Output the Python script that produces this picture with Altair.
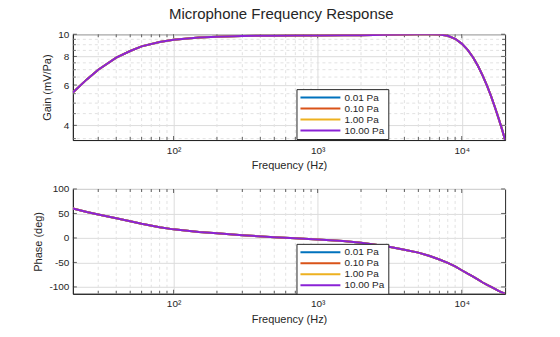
import altair as alt
import pandas as pd

# ---- data ----
freq = [20, 25, 30, 40, 50, 60, 80, 100, 150, 200, 300, 500, 700, 1000, 1500, 2000,
        3000, 4000, 5000, 6000, 7000, 8000, 9000, 10000, 11000, 12000, 13000, 14000,
        15000, 16000, 17000, 18000, 19000, 20000]
gain = [5.57, 6.35, 7.0, 7.9, 8.45, 8.85, 9.25, 9.45, 9.68, 9.76, 9.83, 9.86, 9.87, 9.88,
        9.9, 9.91, 9.94, 9.97, 9.99, 10.0, 9.97, 9.85, 9.55, 9.1, 8.55, 7.92, 7.25, 6.58,
        5.95, 5.35, 4.8, 4.3, 3.86, 3.45]
phase = [60, 53, 48, 40, 34, 29, 22, 17.5, 12, 9.5, 5.5, 1.5, -0.5, -3, -6.5, -10,
         -17, -24, -30, -37, -44, -51, -58, -66, -73, -79, -85, -91, -96, -100, -104,
         -108, -111, -114]
levels = ["0.01 Pa", "0.10 Pa", "1.00 Pa", "10.00 Pa"]
colors = ["#0072BD", "#D95319", "#EDB120", "#8A22D6"]

x_major = [100, 1000, 10000]
x_minor = [30, 40, 50, 60, 70, 80, 90, 200, 300, 400, 500, 600, 700, 800, 900,
           2000, 3000, 4000, 5000, 6000, 7000, 8000, 9000]
gain_ticks = [4, 6, 8, 10]
gain_minor = [3.5, 4.5, 5, 5.5, 6.5, 7, 7.5, 8.5, 9, 9.5]
phase_ticks = [-100, -50, 0, 50, 100]

rows = []
for lv in levels:
    for f, g, p in zip(freq, gain, phase):
        rows.append({"level": lv, "f": f, "gain": g, "phase": p})
df = pd.DataFrame(rows)
df_xminor = pd.DataFrame({"f": x_minor})
df_xmajor = pd.DataFrame({"f": x_major})
df_gmajor = pd.DataFrame({"gain": gain_ticks})
df_gminor = pd.DataFrame({"gain": gain_minor})
df_pmajor = pd.DataFrame({"phase": phase_ticks})

TXT = "#262626"
GRID = "#dcdcdc"
MINOR = "#e2e2e2"
W = 433

x_enc = alt.X(
    "f:Q",
    scale=alt.Scale(type="log", domain=[20, 20000], nice=False),
    axis=alt.Axis(
        values=x_major,
        labelExpr="datum.value == 100 ? '10²' : datum.value == 1000 ? '10³' : '10⁴'",
        title="Frequency (Hz)",
        labelPadding=5,
        titlePadding=5,
    ),
)

legend = alt.Legend(
    orient="none", legendX=224, legendY=55, title=None,
    symbolType="stroke", symbolSize=1600, symbolStrokeWidth=2,
    clipHeight=11, labelFontSize=10, labelOffset=3, padding=3,
    fillColor="white", strokeColor=TXT, rowPadding=0,
)
color_enc = alt.Color("level:N", scale=alt.Scale(domain=levels, range=colors), legend=legend)


def inward_ticks(y_enc, h, ymaj_df, ymin_df):
    out = []
    for d, L in ((df_xmajor, 4), (df_xminor, 3)):
        out.append(alt.Chart(d).mark_tick(color=TXT, thickness=1, size=L)
                   .encode(x=x_enc, y=alt.value(h - L / 2)))
        out.append(alt.Chart(d).mark_tick(color=TXT, thickness=1, size=L)
                   .encode(x=x_enc, y=alt.value(L / 2)))
    for d, L in ((ymaj_df, 4), (ymin_df, 3)):
        if d is None:
            continue
        out.append(alt.Chart(d).mark_tick(color=TXT, thickness=1, size=L)
                   .encode(y=y_enc, x=alt.value(L / 2)))
        out.append(alt.Chart(d).mark_tick(color=TXT, thickness=1, size=L)
                   .encode(y=y_enc, x=alt.value(W - L / 2)))
    return out


def panel(y_enc, h, ymaj_df, ymin_df):
    layers = [
        alt.Chart(df_xminor).mark_rule(color=MINOR, strokeDash=[3, 3], strokeWidth=1).encode(x=x_enc)
    ]
    if ymin_df is not None:
        layers.append(
            alt.Chart(ymin_df).mark_rule(color=MINOR, strokeDash=[3, 3], strokeWidth=1).encode(y=y_enc)
        )
    layers += inward_ticks(y_enc, h, ymaj_df, ymin_df)
    for lv in levels:
        layers.append(
            alt.Chart(df).transform_filter(alt.datum.level == lv)
            .mark_line(strokeWidth=2, clip=True)
            .encode(x=x_enc, y=y_enc, color=color_enc)
        )
    return alt.layer(*layers).properties(width=W, height=h)


y_gain = alt.Y(
    "gain:Q",
    scale=alt.Scale(type="log", domain=[3.45, 10], nice=False),
    axis=alt.Axis(values=gain_ticks, title="Gain (mV/Pa)", labelPadding=4, titlePadding=5),
)
y_phase = alt.Y(
    "phase:Q",
    scale=alt.Scale(domain=[-114, 100], nice=False),
    axis=alt.Axis(values=phase_ticks, title="Phase (deg)", labelPadding=4, titlePadding=5,
                  labelExpr="'' + datum.value"),
)

top = panel(y_gain, 106, df_gmajor, df_gminor)
bottom = panel(y_phase, 105, df_pmajor, None)

chart = (
    alt.vconcat(top, bottom, spacing=49, bounds="flush")
    .resolve_scale(x="independent", y="independent", color="independent")
    .properties(
        title=alt.Title("Microphone Frequency Response", anchor="middle", fontSize=15,
                        fontWeight="normal", color=TXT, dx=12, offset=7),
        padding={"left": 32, "top": 6, "right": 54, "bottom": 5},
    )
    .configure(font="Liberation Sans")
    .configure_axis(
        labelFontSize=10, titleFontSize=11, labelColor=TXT, titleColor=TXT,
        domainColor=TXT, tickColor=TXT, gridColor=GRID, ticks=False,
        titleFontWeight="normal",
    )
    .configure_legend(labelColor=TXT)
    .configure_view(stroke=TXT, strokeWidth=1)
)

chart.save("out.html", embed_options={"renderer": "svg", "actions": False})
